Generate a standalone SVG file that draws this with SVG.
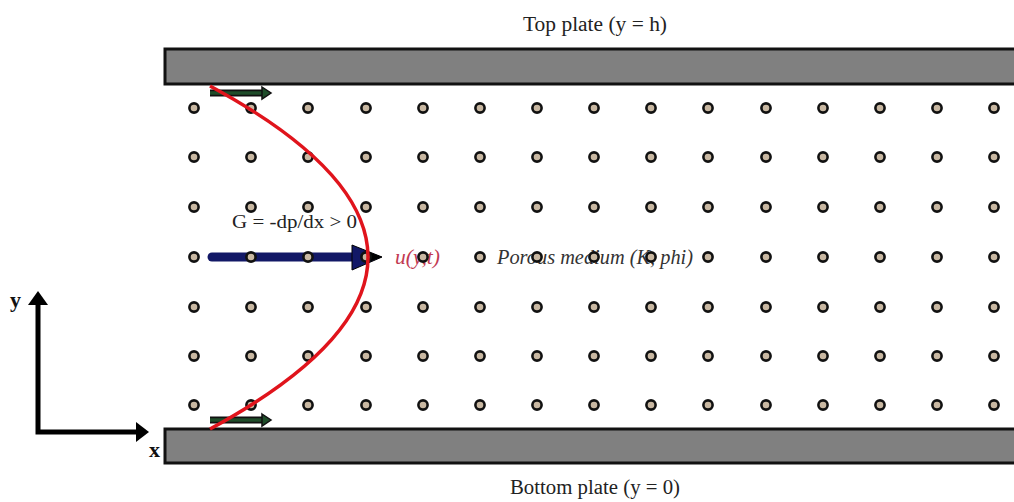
<svg xmlns="http://www.w3.org/2000/svg" width="1014" height="502" viewBox="0 0 1014 502">
<defs>
<style>
.plate{fill:#808080;stroke:#111;stroke-width:3}
.lbl{font-family:"Liberation Serif",serif;font-size:20px;fill:#222}
.it{font-family:"Liberation Serif",serif;font-style:italic;font-size:20px}
.axl{font-family:"Liberation Serif",serif;font-weight:bold;font-size:22px;fill:#111}
.dot{fill:#c9b8a2;stroke:#111;stroke-width:2.6}
.wall{stroke:#111;stroke-width:7;fill:none}
.wallin{stroke:#1f4d2a;stroke-width:3.5;fill:none}
</style>
<g id="dotpat">
<circle class="dot" cx="0" cy="0" r="4.6"/>
</g>
</defs>
<g id="top-plate">
<rect class="plate" x="165" y="49" width="860" height="35"/>
<text class="lbl" x="523" y="31" textLength="144" lengthAdjust="spacingAndGlyphs">Top plate (y = h)</text>
</g>
<g id="bottom-plate">
<rect class="plate" x="165" y="429" width="860" height="34"/>
<text class="lbl" x="510" y="494" textLength="170" lengthAdjust="spacingAndGlyphs">Bottom plate (y = 0)</text>
</g>
<g id="labels">
<text class="lbl" x="232" y="228" textLength="125" lengthAdjust="spacingAndGlyphs" style="font-size:19px">G = -dp/dx &gt; 0</text>
<text class="it" x="395" y="264" fill="#c23a52" textLength="45" lengthAdjust="spacingAndGlyphs">u(y,t)</text>
<text class="it" x="497" y="264" fill="#333" textLength="196" lengthAdjust="spacingAndGlyphs">Porous medium (K, phi)</text>
</g>
<g id="pressure-arrow">
<line x1="212" y1="257" x2="354" y2="257" stroke="#121866" stroke-width="9" stroke-linecap="round"/>
<polygon points="352,245 382,257 352,270" fill="#121866" stroke="#000" stroke-width="1"/>
<polygon points="366,251 382,257 366,263" fill="#000"/>
</g>
<g id="medium">
<g id="row1">
<use href="#dotpat" x="194" y="108"/><use href="#dotpat" x="251" y="108"/><use href="#dotpat" x="308" y="108"/><use href="#dotpat" x="366" y="108"/><use href="#dotpat" x="423" y="108"/><use href="#dotpat" x="480" y="108"/><use href="#dotpat" x="537" y="108"/><use href="#dotpat" x="594" y="108"/><use href="#dotpat" x="651" y="108"/><use href="#dotpat" x="708" y="108"/><use href="#dotpat" x="766" y="108"/><use href="#dotpat" x="823" y="108"/><use href="#dotpat" x="880" y="108"/><use href="#dotpat" x="937" y="108"/><use href="#dotpat" x="994" y="108"/>
</g>
<g id="row2">
<use href="#dotpat" x="194" y="157"/><use href="#dotpat" x="251" y="157"/><use href="#dotpat" x="308" y="157"/><use href="#dotpat" x="366" y="157"/><use href="#dotpat" x="423" y="157"/><use href="#dotpat" x="480" y="157"/><use href="#dotpat" x="537" y="157"/><use href="#dotpat" x="594" y="157"/><use href="#dotpat" x="651" y="157"/><use href="#dotpat" x="708" y="157"/><use href="#dotpat" x="766" y="157"/><use href="#dotpat" x="823" y="157"/><use href="#dotpat" x="880" y="157"/><use href="#dotpat" x="937" y="157"/><use href="#dotpat" x="994" y="157"/>
</g>
<g id="row3">
<use href="#dotpat" x="194" y="207"/><use href="#dotpat" x="251" y="207"/><use href="#dotpat" x="308" y="207"/><use href="#dotpat" x="366" y="207"/><use href="#dotpat" x="423" y="207"/><use href="#dotpat" x="480" y="207"/><use href="#dotpat" x="537" y="207"/><use href="#dotpat" x="594" y="207"/><use href="#dotpat" x="651" y="207"/><use href="#dotpat" x="708" y="207"/><use href="#dotpat" x="766" y="207"/><use href="#dotpat" x="823" y="207"/><use href="#dotpat" x="880" y="207"/><use href="#dotpat" x="937" y="207"/><use href="#dotpat" x="994" y="207"/>
</g>
<g id="row4">
<use href="#dotpat" x="194" y="257"/><use href="#dotpat" x="251" y="257"/><use href="#dotpat" x="308" y="257"/><use href="#dotpat" x="366" y="257"/><use href="#dotpat" x="423" y="257"/><use href="#dotpat" x="480" y="257"/><use href="#dotpat" x="537" y="257"/><use href="#dotpat" x="594" y="257"/><use href="#dotpat" x="651" y="257"/><use href="#dotpat" x="708" y="257"/><use href="#dotpat" x="766" y="257"/><use href="#dotpat" x="823" y="257"/><use href="#dotpat" x="880" y="257"/><use href="#dotpat" x="937" y="257"/><use href="#dotpat" x="994" y="257"/>
</g>
<g id="row5">
<use href="#dotpat" x="194" y="307"/><use href="#dotpat" x="251" y="307"/><use href="#dotpat" x="308" y="307"/><use href="#dotpat" x="366" y="307"/><use href="#dotpat" x="423" y="307"/><use href="#dotpat" x="480" y="307"/><use href="#dotpat" x="537" y="307"/><use href="#dotpat" x="594" y="307"/><use href="#dotpat" x="651" y="307"/><use href="#dotpat" x="708" y="307"/><use href="#dotpat" x="766" y="307"/><use href="#dotpat" x="823" y="307"/><use href="#dotpat" x="880" y="307"/><use href="#dotpat" x="937" y="307"/><use href="#dotpat" x="994" y="307"/>
</g>
<g id="row6">
<use href="#dotpat" x="194" y="356"/><use href="#dotpat" x="251" y="356"/><use href="#dotpat" x="308" y="356"/><use href="#dotpat" x="366" y="356"/><use href="#dotpat" x="423" y="356"/><use href="#dotpat" x="480" y="356"/><use href="#dotpat" x="537" y="356"/><use href="#dotpat" x="594" y="356"/><use href="#dotpat" x="651" y="356"/><use href="#dotpat" x="708" y="356"/><use href="#dotpat" x="766" y="356"/><use href="#dotpat" x="823" y="356"/><use href="#dotpat" x="880" y="356"/><use href="#dotpat" x="937" y="356"/><use href="#dotpat" x="994" y="356"/>
</g>
<g id="row7">
<use href="#dotpat" x="194" y="405"/><use href="#dotpat" x="251" y="405"/><use href="#dotpat" x="308" y="405"/><use href="#dotpat" x="366" y="405"/><use href="#dotpat" x="423" y="405"/><use href="#dotpat" x="480" y="405"/><use href="#dotpat" x="537" y="405"/><use href="#dotpat" x="594" y="405"/><use href="#dotpat" x="651" y="405"/><use href="#dotpat" x="708" y="405"/><use href="#dotpat" x="766" y="405"/><use href="#dotpat" x="823" y="405"/><use href="#dotpat" x="880" y="405"/><use href="#dotpat" x="937" y="405"/><use href="#dotpat" x="994" y="405"/>
</g>
</g>
<g id="wall-velocity">
<path class="wall" d="M210,93 H262"/><path class="wallin" d="M210,93 H262"/>
<polygon points="262,87 271,93 262,99" fill="#1f4d2a" stroke="#111" stroke-width="1.5"/>
<path class="wall" d="M210,420 H262"/><path class="wallin" d="M210,420 H262"/>
<polygon points="262,414 271,420 262,426" fill="#1f4d2a" stroke="#111" stroke-width="1.5"/>
</g>
<g id="profile">
<path d="M210,86 Q526,257 210,429" fill="none" stroke="#e0141c" stroke-width="3.5"/>
</g>
<g id="axes">
<path d="M38,303 V432 H138" fill="none" stroke="#000" stroke-width="5"/>
<polygon points="28,305 38,291 48,305" fill="#000"/>
<polygon points="136,422 149,432 136,442" fill="#000"/>
<text class="axl" x="10" y="307">y</text>
<text class="axl" x="149" y="457">x</text>
</g>
</svg>
